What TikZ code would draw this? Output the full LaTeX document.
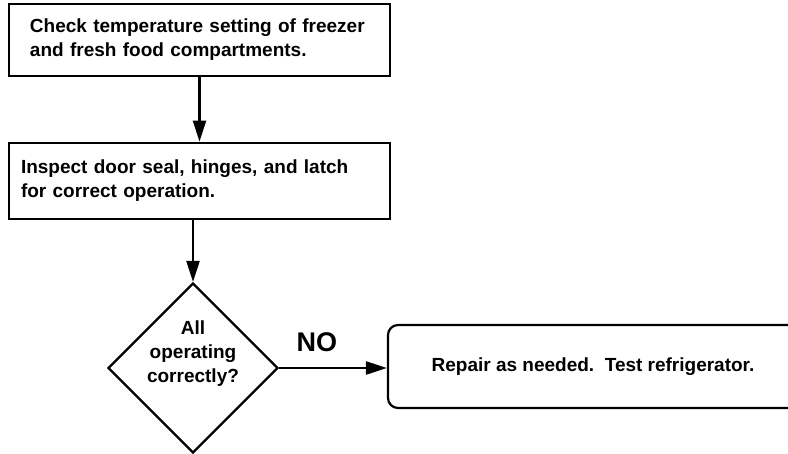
\documentclass[tikz,border=0pt]{standalone}
\usepackage{fontspec}
\setmainfont{Liberation Sans}
\usetikzlibrary{arrows.meta,shapes.geometric}

\tikzset{
  stepbox/.style={draw, line width=2.8pt, align=left, minimum height=72pt,
    font=\bfseries\fontsize{19}{24}\selectfont},
  decision/.style={draw, diamond, line width=2.2pt, minimum width=170pt,
    minimum height=170pt, inner sep=0pt},
  txt/.style={align=center, font=\bfseries\fontsize{19}{24}\selectfont},
  flow/.style={line width=2.4pt, -{Triangle[length=21pt,width=13pt]}},
}

\begin{document}
\begin{tikzpicture}[x=1pt, y=-1pt]
\useasboundingbox (0,0) rectangle (788,453);

\node[stepbox, text width=339pt, inner xsep=21pt] (check) at (199.5,40)
  {Check temperature setting of freezer\\and fresh food compartments.};
\node[stepbox, text width=357pt, inner xsep=12pt, minimum height=76pt] (inspect) at (199.5,181)
  {Inspect door seal, hinges, and latch\\for correct operation.};

\node[decision] (allok) at (193,368) {};
\node[txt] (allokq) at (allok.center) [yshift=14pt] {All\\operating\\correctly?};

\node[draw, rounded corners=10pt, line width=2.2pt, minimum width=410pt,
  minimum height=83pt, txt] (repair) at (593,366.5) {Repair as needed.\ \ Test refrigerator.};

\draw[flow] (check.south) -- (inspect.north);
\draw[flow] (allok.north |- inspect.south) -- (allok.north);
\draw[flow] (allok.east) -- (allok.east -| repair.west)
  node[pos=0.35, above=12pt, font=\bfseries\fontsize{27}{30}\selectfont] {NO};

\end{tikzpicture}
\end{document}
